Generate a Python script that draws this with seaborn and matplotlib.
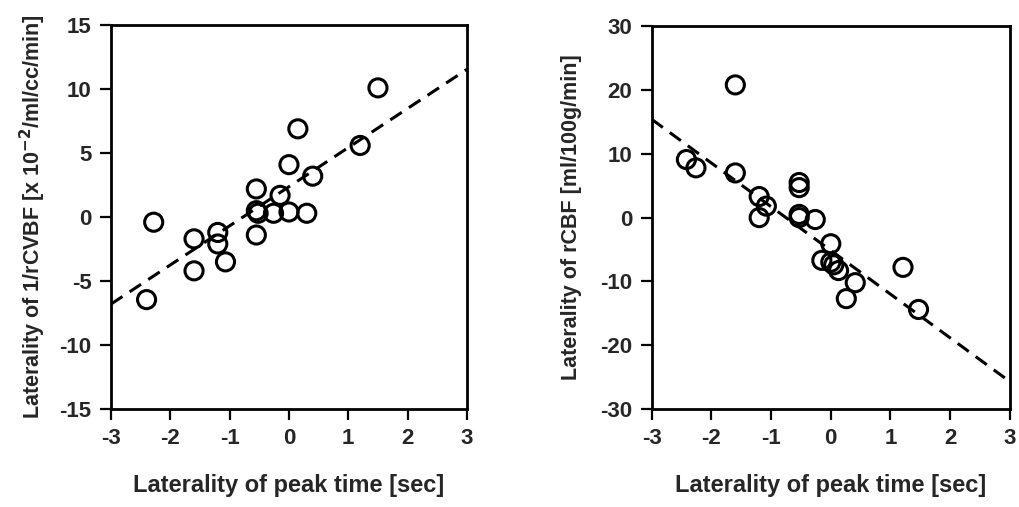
import numpy as np
import pandas as pd
import matplotlib
matplotlib.use('Agg')
import matplotlib.pyplot as plt
import seaborn as sns

sns.set_style('ticks')
plt.rcParams['font.family'] = ['Liberation Sans', 'DejaVu Sans']

# left panel: 1/rCVBF laterality vs peak time laterality
peak_left = [1.5, 0.15, 1.2, 0.0, 0.4, -0.55, -0.15, -0.55, -0.52, -0.26, 0.0, 0.3,
             -2.28, -1.6, -1.2, -1.2, -0.55, -1.07, -1.6, -2.4]
rcvbf = [10.1, 6.9, 5.6, 4.1, 3.2, 2.2, 1.7, 0.5, 0.3, 0.3, 0.4, 0.3,
         -0.4, -1.7, -1.2, -2.1, -1.4, -3.5, -4.2, -6.45]
fit_left_x = [-3, 3]
fit_left_y = [-6.8, 11.55]

# right panel: rCBF laterality vs peak time laterality
peak_right = [-1.6, -2.42, -2.26, -1.6, -0.53, -0.53, -1.2, -1.08, -1.2, -0.53, -0.53,
              -0.26, 0.0, -0.15, 0.0, 0.05, 0.13, 0.41, 0.26, 1.21, 1.47]
rcbf = [20.8, 9.1, 7.8, 7.0, 5.5, 4.7, 3.3, 1.8, 0.0, 0.5, 0.0,
        -0.3, -4.1, -6.7, -7.0, -7.4, -8.3, -10.2, -12.7, -7.8, -14.4]
fit_right_x = [-3, 3]
fit_right_y = [15.4, -25.7]

xticks = [-3, -2, -1, 0, 1, 2, 3]
yticks_left = [-15, -10, -5, 0, 5, 10, 15]
yticks_right = [-30, -20, -10, 0, 10, 20, 30]

fig = plt.figure(figsize=(10.2, 5.07), dpi=100)
ax1 = fig.add_axes([0.1088, 0.1933, 0.349, 0.757])
ax2 = fig.add_axes([0.639, 0.1933, 0.351, 0.755])

def panel(ax, x, y, fx, fy, yticks, ylabel, ypad):
    df = pd.DataFrame({'x': x, 'y': y})
    sns.lineplot(x=fx, y=fy, ax=ax, color='black', linestyle=(0, (4.5, 2.8)),
                 linewidth=2.2, zorder=2)
    sns.scatterplot(data=df, x='x', y='y', ax=ax, s=170, facecolor='none',
                    edgecolor='black', linewidth=2.2, zorder=3)
    ax.set_xlim(-3, 3)
    ax.set_ylim(yticks[0], yticks[-1])
    ax.set_xticks(xticks)
    ax.set_yticks(yticks)
    ax.set_xticklabels([str(t) for t in xticks], fontweight='bold')
    ax.set_yticklabels([str(t) for t in yticks], fontweight='bold')
    ax.tick_params(labelsize=16, width=1.6, length=8, direction='out',
                   color='black', pad=6)
    for sp in ax.spines.values():
        sp.set_linewidth(2)
        sp.set_color('black')
    ax.set_xlabel('Laterality of peak time [sec]', fontsize=17,
                  fontweight='bold', labelpad=18)
    ax.set_ylabel(ylabel, fontsize=15.5, fontweight='bold', labelpad=ypad)

panel(ax1, peak_left, rcvbf, fit_left_x, fit_left_y, yticks_left,
      r'Laterality of 1/rCVBF [x 10$^{\mathbf{-2}}$/ml/cc/min]', 8)
panel(ax2, peak_right, rcbf, fit_right_x, fit_right_y, yticks_right,
      'Laterality of rCBF [ml/100g/min]', 13)

fig.savefig('out.png', dpi=100)
